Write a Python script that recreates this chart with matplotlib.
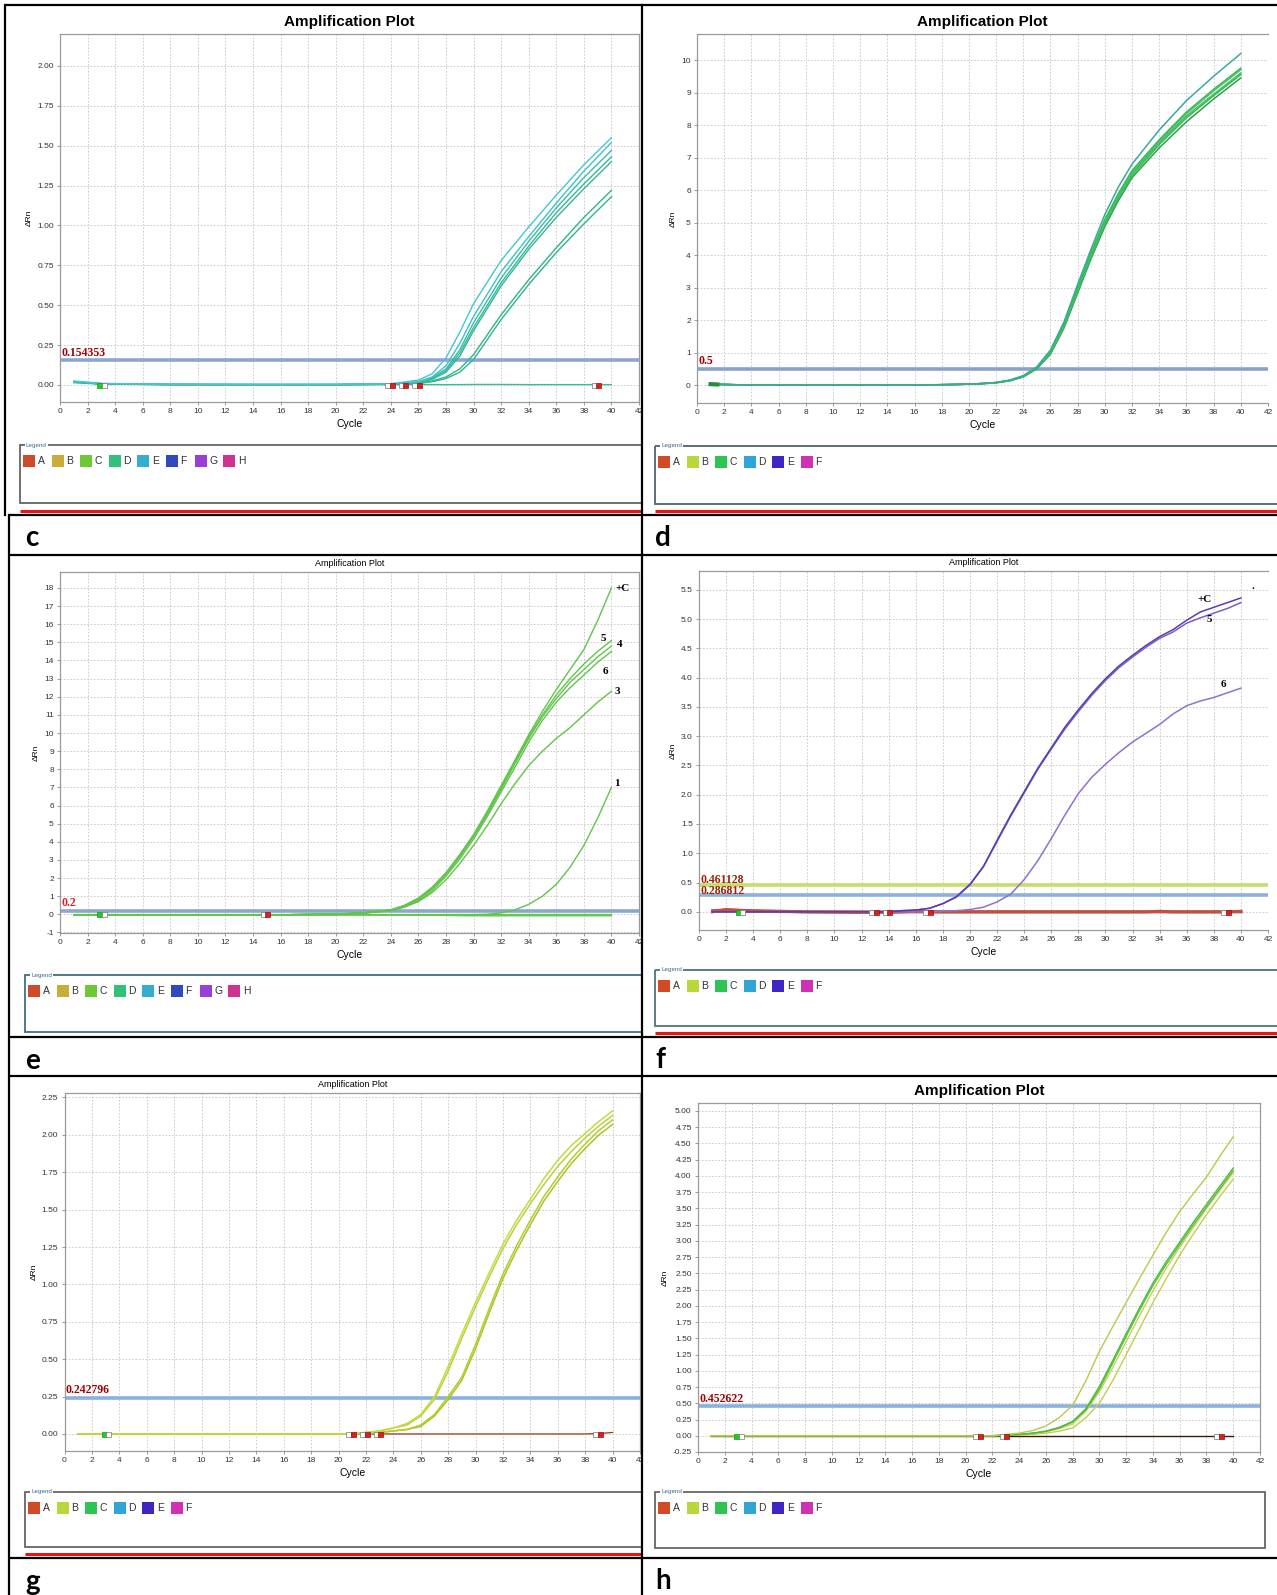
import numpy as np
import matplotlib
matplotlib.use("Agg")
import matplotlib.pyplot as plt
from matplotlib.patches import Rectangle

W, H = 1277, 1595
NARROW = ['Liberation Sans Narrow', 'Liberation Sans', 'DejaVu Sans']
SERIF = ['Liberation Serif', 'DejaVu Serif']

# ---------------- panel 1 (top left) ----------------
p1_cycles = [1, 3, 8, 14, 20, 24, 26, 27, 28, 29, 30, 32, 34, 36, 38, 40]
p1_E1 = [0.025, 0.010, 0.004, 0.003, 0.003, 0.008, 0.030, 0.07, 0.17, 0.33, 0.51, 0.78, 0.99, 1.19, 1.38, 1.55]
p1_E2 = [0.020, 0.008, 0.004, 0.003, 0.003, 0.007, 0.020, 0.05, 0.12, 0.26, 0.43, 0.71, 0.93, 1.14, 1.34, 1.52]
p1_D1 = [0.022, 0.008, 0.003, 0.002, 0.003, 0.006, 0.020, 0.045, 0.10, 0.22, 0.39, 0.67, 0.90, 1.11, 1.30, 1.47]
p1_D2 = [0.020, 0.007, 0.003, 0.002, 0.002, 0.005, 0.015, 0.04, 0.09, 0.20, 0.36, 0.64, 0.87, 1.08, 1.26, 1.43]
p1_D3 = [0.018, 0.006, 0.003, 0.002, 0.002, 0.005, 0.015, 0.035, 0.08, 0.18, 0.34, 0.62, 0.85, 1.05, 1.23, 1.40]
p1_D4 = [0.016, 0.006, 0.002, 0.002, 0.002, 0.004, 0.010, 0.025, 0.05, 0.10, 0.19, 0.44, 0.66, 0.86, 1.05, 1.22]
p1_D5 = [0.015, 0.005, 0.002, 0.002, 0.002, 0.004, 0.010, 0.020, 0.04, 0.08, 0.16, 0.41, 0.63, 0.83, 1.01, 1.18]
p1_flat = [0.020, 0.006, 0.002, 0.002, 0.001, 0.002, 0.003, 0.002, 0.002, 0.002, 0.003, 0.003, 0.002, 0.002, 0.002, 0.002]
p1_threshold = 0.154353
p1_green_marks = [2.9]
p1_red_marks = [24, 25, 26, 39]

# ---------------- panel 2 (top right) ----------------
p2_cycles = [1, 4, 10, 16, 19, 20, 21, 22, 23, 24, 25, 26, 27, 28, 29, 30, 31, 32, 34, 36, 38, 40]
p2_T = [0.03, 0.0, 0.0, 0.0, 0.02, 0.03, 0.05, 0.08, 0.15, 0.29, 0.56, 1.08, 1.95, 3.10, 4.20, 5.25, 6.10, 6.80, 7.85, 8.75, 9.50, 10.20]
p2_G1 = [0.03, 0.0, 0.0, 0.0, 0.02, 0.03, 0.05, 0.08, 0.15, 0.28, 0.55, 1.05, 1.90, 3.00, 4.10, 5.10, 5.90, 6.60, 7.55, 8.40, 9.10, 9.75]
p2_G2 = [0.03, 0.0, 0.0, 0.0, 0.02, 0.03, 0.05, 0.08, 0.15, 0.28, 0.55, 1.03, 1.87, 2.97, 4.05, 5.05, 5.85, 6.55, 7.50, 8.35, 9.05, 9.70]
p2_G3 = [0.03, 0.0, 0.0, 0.0, 0.02, 0.03, 0.05, 0.08, 0.14, 0.27, 0.53, 1.00, 1.83, 2.92, 4.00, 5.00, 5.80, 6.50, 7.45, 8.28, 8.95, 9.60]
p2_G4 = [0.03, 0.0, 0.0, 0.0, 0.02, 0.03, 0.05, 0.07, 0.14, 0.26, 0.52, 0.98, 1.80, 2.88, 3.95, 4.95, 5.75, 6.45, 7.40, 8.22, 8.90, 9.55]
p2_G5 = [0.03, 0.0, 0.0, 0.0, 0.02, 0.03, 0.04, 0.07, 0.13, 0.25, 0.50, 0.95, 1.76, 2.83, 3.90, 4.88, 5.68, 6.38, 7.30, 8.10, 8.80, 9.45]
p2_threshold = 0.5

# ---------------- panel 3 (middle left) ----------------
p3_cycles = [1, 5, 10, 15, 20, 22, 24, 25, 26, 27, 28, 29, 30, 31, 32, 33, 34, 35, 36, 37, 38, 39, 40]
p3_pC = [-0.05, -0.05, -0.05, -0.04, 0.02, 0.08, 0.25, 0.50, 0.90, 1.50, 2.30, 3.30, 4.40, 5.70, 7.10, 8.50, 9.90, 11.2, 12.4, 13.5, 14.6, 16.2, 18.0]
p3_5 = [-0.05, -0.05, -0.05, -0.04, 0.02, 0.08, 0.24, 0.48, 0.85, 1.45, 2.25, 3.25, 4.35, 5.60, 7.00, 8.40, 9.80, 11.0, 12.1, 13.0, 13.8, 14.5, 15.1]
p3_4 = [-0.05, -0.05, -0.05, -0.04, 0.02, 0.07, 0.23, 0.46, 0.82, 1.40, 2.20, 3.18, 4.28, 5.52, 6.90, 8.30, 9.70, 10.9, 11.9, 12.8, 13.5, 14.2, 14.8]
p3_6 = [-0.05, -0.05, -0.05, -0.04, 0.02, 0.07, 0.22, 0.42, 0.75, 1.30, 2.10, 3.05, 4.15, 5.40, 6.75, 8.10, 9.50, 10.7, 11.7, 12.5, 13.2, 13.9, 14.5]
p3_3 = [-0.05, -0.05, -0.05, -0.04, 0.02, 0.06, 0.20, 0.40, 0.70, 1.20, 1.90, 2.80, 3.80, 4.90, 6.10, 7.20, 8.20, 9.00, 9.70, 10.3, 11.0, 11.7, 12.3]
p3_1 = [-0.05, -0.05, -0.05, -0.05, -0.04, -0.03, -0.03, -0.03, -0.03, -0.03, -0.02, -0.02, -0.02, 0.00, 0.08, 0.25, 0.55, 1.00, 1.65, 2.60, 3.80, 5.30, 7.00]
p3_flat1 = [-0.03, -0.03, -0.03, -0.03, -0.03, -0.03, -0.04, -0.04, -0.05, -0.05, -0.06, -0.07, -0.08, -0.08, -0.08, -0.08, -0.08, -0.08, -0.08, -0.08, -0.08, -0.08, -0.08]
p3_flat2 = [0.00, 0.00, 0.00, 0.00, 0.00, 0.00, 0.00, 0.00, 0.00, 0.00, 0.00, 0.00, 0.00, 0.00, 0.00, 0.00, 0.00, 0.00, 0.00, 0.00, 0.00, 0.00, 0.00]
p3_threshold = 0.2
p3_green_marks = [2.9]
p3_red_marks = [15]
p3_names = ['+C', '5', '4', '6', '3', '1']

# ---------------- panel 4 (middle right) ----------------
p4_cycles = [1, 2, 4, 8, 12, 14, 15, 16, 17, 18, 19, 20, 21, 22, 23, 24, 25, 26, 27, 28,
             29, 30, 31, 32, 33, 34, 35, 36, 37, 38, 39, 40]
p4_pC = [0.0, 0.0, 0.0, 0.0, 0.0, 0.0, 0.02, 0.03, 0.06, 0.14, 0.26, 0.47, 0.78, 1.22, 1.65, 2.05, 2.45, 2.80,
         3.15, 3.45, 3.73, 3.98, 4.20, 4.38, 4.55, 4.70, 4.82, 4.98, 5.12, 5.20, 5.28, 5.36]
p4_5 = [0.0, 0.0, 0.0, 0.0, 0.0, 0.0, 0.02, 0.03, 0.06, 0.14, 0.25, 0.46, 0.77, 1.20, 1.63, 2.03, 2.43, 2.78,
        3.12, 3.42, 3.70, 3.95, 4.17, 4.35, 4.52, 4.67, 4.78, 4.93, 5.02, 5.10, 5.18, 5.28]
p4_6 = [0.0, 0.0, 0.0, 0.0, 0.0, 0.0, 0.0, 0.0, 0.0, 0.01, 0.02, 0.04, 0.08, 0.17, 0.30, 0.55, 0.87, 1.25,
        1.65, 2.02, 2.30, 2.52, 2.72, 2.90, 3.05, 3.20, 3.38, 3.52, 3.60, 3.66, 3.74, 3.82]
p4_base1 = [0.02, 0.03, 0.02, 0.0, -0.01, 0.0, 0.0, 0.0, 0.0, 0.0, 0.0, 0.0, 0.0, 0.0, 0.0, 0.0, 0.0, 0.0,
            0.0, 0.0, 0.0, 0.0, 0.0, 0.0, 0.0, 0.01, 0.0, 0.0, 0.0, 0.0, 0.0, 0.01]
p4_base2 = [0.0, 0.04, 0.01, 0.0, 0.0, -0.01, 0.0, 0.01, 0.0, 0.0, 0.0, 0.0, 0.0, 0.0, 0.0, 0.0, 0.0, 0.0,
            0.0, 0.0, 0.0, 0.0, 0.0, 0.0, 0.0, 0.0, 0.0, 0.0, 0.0, 0.0, 0.0, 0.0]
p4_thresholds = [0.461128, 0.286812]
p4_green_marks = [2.9]
p4_red_marks = [13, 14, 17, 39]
p4_names = ['+C', '5', '6', '.']

# ---------------- panel 5 (bottom left) ----------------
p5_cycles = [1, 10, 20, 21, 22, 23, 24, 25, 26, 27, 28, 29, 30, 31, 32, 33, 34, 35, 36, 37, 38, 39, 40]
p5_L1 = [0.0, 0.0, 0.0, 0.003, 0.01, 0.02, 0.04, 0.07, 0.13, 0.25, 0.45, 0.67, 0.88, 1.08, 1.27, 1.43, 1.57, 1.71, 1.83, 1.93, 2.01, 2.09, 2.16]
p5_L2 = [0.0, 0.0, 0.0, 0.003, 0.01, 0.02, 0.04, 0.06, 0.12, 0.23, 0.42, 0.64, 0.85, 1.05, 1.24, 1.40, 1.54, 1.67, 1.79, 1.89, 1.98, 2.06, 2.13]
p5_R1 = [0.0, 0.0, 0.0, 0.0, 0.003, 0.01, 0.02, 0.03, 0.06, 0.13, 0.25, 0.38, 0.60, 0.84, 1.07, 1.26, 1.43, 1.59, 1.72, 1.84, 1.94, 2.03, 2.10]
p5_R2 = [0.0, 0.0, 0.0, 0.0, 0.003, 0.01, 0.02, 0.03, 0.05, 0.12, 0.23, 0.36, 0.57, 0.81, 1.04, 1.23, 1.40, 1.56, 1.69, 1.81, 1.91, 2.00, 2.07]
p5_base = [0.0, 0.0, 0.0, 0.0, 0.0, 0.0, 0.0, 0.0, 0.0, 0.0, 0.0, 0.0, 0.0, 0.0, 0.0, 0.0, 0.0, 0.0, 0.0, 0.0, 0.0, 0.003, 0.01]
p5_threshold = 0.242796
p5_green_marks = [2.9]
p5_red_marks = [21, 22, 23, 39]

# ---------------- panel 6 (bottom right) ----------------
p6_cycles = [1, 10, 20, 22, 24, 25, 26, 27, 28, 29, 30, 31, 32, 33, 34, 35, 36, 37, 38, 39, 40]
p6_Y1 = [0.0, 0.0, 0.0, 0.0, 0.04, 0.08, 0.15, 0.28, 0.47, 0.85, 1.30, 1.68, 2.05, 2.42, 2.78, 3.13, 3.45, 3.72, 3.98, 4.30, 4.60]
p6_G1 = [0.0, 0.0, 0.0, 0.0, 0.02, 0.04, 0.07, 0.13, 0.22, 0.42, 0.76, 1.16, 1.57, 1.97, 2.35, 2.68, 2.98, 3.28, 3.56, 3.84, 4.12]
p6_G2 = [0.0, 0.0, 0.0, 0.0, 0.02, 0.04, 0.07, 0.12, 0.21, 0.40, 0.72, 1.12, 1.53, 1.93, 2.31, 2.64, 2.94, 3.24, 3.52, 3.80, 4.08]
p6_Y2 = [0.0, 0.0, 0.0, 0.0, 0.02, 0.03, 0.06, 0.11, 0.18, 0.38, 0.68, 1.05, 1.45, 1.85, 2.23, 2.58, 2.90, 3.20, 3.50, 3.78, 4.05]
p6_Y3 = [0.0, 0.0, 0.0, 0.0, 0.01, 0.02, 0.04, 0.07, 0.12, 0.28, 0.50, 0.85, 1.25, 1.65, 2.05, 2.42, 2.78, 3.10, 3.40, 3.68, 3.95]
p6_base = [0.0, 0.0, 0.0, 0.0, 0.0, 0.0, 0.0, 0.0, 0.0, 0.0, 0.0, 0.0, 0.0, 0.0, 0.0, 0.0, 0.0, 0.0, 0.0, 0.0, 0.0]
p6_threshold = 0.452622
p6_green_marks = [2.9]
p6_red_marks = [21, 23, 39]

legend8 = ['A', 'B', 'C', 'D', 'E', 'F', 'G', 'H']
legend8_colors = ['#cf4a2a', '#c8ae38', '#6cc834', '#30c27a', '#34aed0', '#3048c0', '#9a3ed8', '#d03290']
legend6 = ['A', 'B', 'C', 'D', 'E', 'F']
legend6_colors = ['#d24a26', '#b8d83a', '#2ec454', '#30a4d4', '#4024c4', '#d030b4']


fig = plt.figure(figsize=(W / 100, H / 100), dpi=100)


def px_axes(left, top, right, bottom):
    return fig.add_axes([left / W, 1 - bottom / H, (right - left) / W, (bottom - top) / H])


def style_axes(ax, xmax, ylim, yticks, yfmt):
    ax.set_xlim(0, xmax)
    ax.set_ylim(*ylim)
    ax.set_xticks(np.arange(0, xmax + 1, 2))
    ax.set_yticks(yticks)
    ax.set_yticklabels([yfmt.format(v) for v in yticks])
    ax.grid(True, color='#c4c4c4', lw=0.6, ls=(0, (2, 2)))
    ax.set_axisbelow(True)
    for s in ax.spines.values():
        s.set_color('#9a9a9a')
        s.set_linewidth(0.9)
    ax.tick_params(length=2.5, width=0.6, color='#888888', labelsize=6, labelcolor='#333333', pad=2)
    for lab in ax.get_xticklabels() + ax.get_yticklabels():
        lab.set_family(NARROW)
    ax.set_xlabel('Cycle', family=NARROW, fontsize=7.5, labelpad=3)
    ax.set_ylabel('\u0394Rn', family=['Liberation Sans', 'DejaVu Sans'], fontsize=6, labelpad=3)


def thr_line(ax, y, color, label, lc='#a00000', lw=2.6):
    ax.axhline(y, color=color, lw=lw, zorder=1.8)
    ax.annotate(label, (0, y), xytext=(1, 1), textcoords='offset points', fontsize=8.5,
                family=SERIF, color=lc, va='bottom', ha='left', zorder=5, fontweight='bold')


def marks(ax, greens, reds):
    for x in greens:
        ax.plot(x - 0.05, 0, 's', ms=3.6, mfc='#22cc22', mec='#119911', mew=0.5, zorder=6, clip_on=False)
        ax.plot(x + 0.3, 0, 's', ms=3.6, mfc='white', mec='#777777', mew=0.5, zorder=6, clip_on=False)
    for x in reds:
        ax.plot(x - 0.3, 0, 's', ms=3.6, mfc='white', mec='#777777', mew=0.5, zorder=6, clip_on=False)
        ax.plot(x + 0.05, 0, 's', ms=3.6, mfc='#dd1e1e', mec='#991111', mew=0.5, zorder=6, clip_on=False)


# ---- panel 1
ax1 = px_axes(60, 34, 639, 402)
style_axes(ax1, 42, (-0.107, 2.20), np.arange(0, 2.01, 0.25), '{:.2f}')
thr_line(ax1, p1_threshold, '#8fa6d4', f'{p1_threshold:g}')
for ys, c in [(p1_flat, '#3cc08a'), (p1_D5, '#2fb58a'), (p1_D4, '#2fb58a'), (p1_D3, '#32b890'),
              (p1_D2, '#34b898'), (p1_D1, '#38bcaa'), (p1_E2, '#3cc2c8'), (p1_E1, '#44c6d4')]:
    ax1.plot(p1_cycles, ys, color=c, lw=1.0, zorder=3)
marks(ax1, p1_green_marks, p1_red_marks)
ax1.set_title('Amplification Plot', family=NARROW, fontsize=11, fontweight='bold', pad=6)

# ---- panel 2 (its right edge is cut off in the screenshot)
ax2 = px_axes(697, 34, 1268, 403)
style_axes(ax2, 42, (-0.55, 10.8), np.arange(0, 11, 1), '{:.0f}')
ax2.spines['right'].set_visible(False)
thr_line(ax2, p2_threshold, '#8aa2c8', '0.5')
for ys, c in [(p2_G5, '#2f9e4c'), (p2_G4, '#3cb85a'), (p2_G3, '#40c060'), (p2_G2, '#46c466'),
              (p2_G1, '#3aba5c'), (p2_T, '#3aa8a0')]:
    ax2.plot(p2_cycles, ys, color=c, lw=1.1, zorder=3)
ax2.plot([1, 1.5], [0.03, 0.02], color='#2a8a40', lw=3, zorder=4)
ax2.set_title('Amplification Plot', family=NARROW, fontsize=11, fontweight='bold', pad=6)

# ---- panel 3
ax3 = px_axes(60, 572, 639, 933)
style_axes(ax3, 42, (-1.03, 18.88), np.arange(-1, 19, 1), '{:.0f}')
thr_line(ax3, p3_threshold, '#8aa8cc', '0.2', lc='#d02020')
for ys in [p3_flat2, p3_flat1, p3_1, p3_3, p3_6, p3_4, p3_5, p3_pC]:
    ax3.plot(p3_cycles, ys, color='#62c44c', lw=1.0, zorder=3)
p3_label_x = [40.8, 39.4, 40.6, 39.55, 40.45, 40.4]
p3_label_y = [17.95, 15.2, 14.9, 13.4, 12.3, 7.2]
for t, x, y in zip(p3_names, p3_label_x, p3_label_y):
    ax3.text(x, y, t, family=SERIF, fontweight='bold', fontsize=8, ha='center', va='center', zorder=6)
marks(ax3, p3_green_marks, p3_red_marks)
ax3.set_title('Amplification Plot', family=NARROW, fontsize=6.5, pad=4)

# ---- panel 4
ax4 = px_axes(699, 571, 1268, 930)
style_axes(ax4, 42, (-0.31, 5.82), np.arange(0, 5.51, 0.5), '{:.1f}')
ax4.spines['right'].set_visible(False)
ax4.axhline(p4_thresholds[0], color='#c8dc70', lw=2.6, zorder=1.8)
ax4.axhline(p4_thresholds[1], color='#8fb0d8', lw=2.6, zorder=1.8)
ax4.text(0.1, 0.54, f'{p4_thresholds[0]:g}', family=SERIF, fontsize=8.5, color='#a02000',
         fontweight='bold', va='center', ha='left', zorder=5)
ax4.text(0.1, 0.35, f'{p4_thresholds[1]:g}', family=SERIF, fontsize=8.5, color='#a02000',
         fontweight='bold', va='center', ha='left', zorder=5)
for ys in [p4_base2, p4_base1]:
    ax4.plot(p4_cycles, ys, color='#c25040', lw=2.2, zorder=3)
ax4.plot(p4_cycles, p4_6, color='#9070cc', lw=1.1, zorder=3)
ax4.plot(p4_cycles, p4_5, color='#7a5cc4', lw=1.1, zorder=3)
ax4.plot(p4_cycles, p4_pC, color='#5a3cb0', lw=1.1, zorder=3)
p4_label_x = [37.3, 37.7, 38.7, 40.9]
p4_label_y = [5.34, 4.99, 3.89, 5.56]
for t, x, y in zip(p4_names, p4_label_x, p4_label_y):
    ax4.text(x, y, t, family=SERIF, fontweight='bold', fontsize=8, ha='center', va='center', zorder=6)
marks(ax4, p4_green_marks, p4_red_marks)
ax4.set_title('Amplification Plot', family=NARROW, fontsize=6.5, pad=4)

# ---- panel 5
ax5 = px_axes(64.5, 1093, 640, 1451)
style_axes(ax5, 42, (-0.114, 2.28), np.arange(0, 2.26, 0.25), '{:.2f}')
thr_line(ax5, p5_threshold, '#8ab0e0', f'{p5_threshold:g}')
ax5.plot(p5_cycles, p5_base, color='#a83020', lw=0.9, zorder=3)
for ys, c in [(p5_R2, '#a8c426'), (p5_R1, '#b4cc2c'), (p5_L2, '#bcd23a'), (p5_L1, '#c8d844')]:
    ax5.plot(p5_cycles, ys, color=c, lw=1.1, zorder=3)
marks(ax5, p5_green_marks, p5_red_marks)
ax5.set_title('Amplification Plot', family=NARROW, fontsize=6.5, pad=4)

# ---- panel 6
ax6 = px_axes(698, 1103, 1260, 1452)
style_axes(ax6, 42, (-0.25, 5.12), np.arange(-0.25, 5.01, 0.25), '{:.2f}')
thr_line(ax6, p6_threshold, '#8ab0e0', f'{p6_threshold:g}')
ax6.plot(p6_cycles, p6_base, color='#3a1a10', lw=1.0, zorder=3)
for ys, c in [(p6_Y3, '#c4cc50'), (p6_Y2, '#c8d24c'), (p6_G2, '#58c040'), (p6_G1, '#4cba3c'), (p6_Y1, '#bcc84a')]:
    ax6.plot(p6_cycles, ys, color=c, lw=1.0, zorder=3)
marks(ax6, p6_green_marks, p6_red_marks)
ax6.set_title('Amplification Plot', family=NARROW, fontsize=11, fontweight='bold', pad=6)

# ---------------- frame, legends, letters ----------------
ov = fig.add_axes([0, 0, 1, 1], zorder=10)
ov.set_xlim(0, W)
ov.set_ylim(H, 0)
ov.axis('off')
ov.patch.set_alpha(0)


def legend_box(left, top, bottom, right, names, colors, edge):
    ov.add_patch(Rectangle((left, top), right - left, bottom - top, fill=False, ec=edge, lw=1.3))
    ov.text(left + 6, top, 'Legend', family=NARROW, fontsize=4.5, color='#3a6a8a', va='center',
            ha='left', bbox=dict(fc='white', ec='none', pad=0.5))
    for i, (n, c) in enumerate(zip(names, colors)):
        x0 = left + 3 + i * 28.6
        ov.add_patch(Rectangle((x0, top + 10), 12, 12, fc=c, ec='none'))
        ov.text(x0 + 14.5, top + 16, n, family=NARROW, fontsize=7.5, color='#333333', va='center', ha='left')


legend_box(20, 445, 503, 642, legend8, legend8_colors, '#666666')
legend_box(655, 446, 504, 1290, legend6, legend6_colors, '#4f6470')
legend_box(25, 975, 1032, 642, legend8, legend8_colors, '#3f6f80')
legend_box(655, 970, 1026, 1290, legend6, legend6_colors, '#4f7080')
legend_box(25, 1492, 1547, 642, legend6, legend6_colors, '#666666')
legend_box(655, 1492, 1548, 1265, legend6, legend6_colors, '#666666')

# red separator lines
for x0, x1, y in [(20, 642, 511), (655, W, 511), (655, W, 1033), (25, 642, 1554)]:
    ov.plot([x0, x1], [y, y], color='#ee1111', lw=2.2, solid_capstyle='butt')

# white strip hiding overflow at the column divider, then black borders
ov.add_patch(Rectangle((640.5, 0), 4, H, fc='white', ec='none'))
for y in [5, 515, 555, 1037, 1076, 1558]:
    ov.plot([5 if y == 5 else 9, W], [y, y], color='black', lw=1.6, solid_capstyle='butt')
ov.plot([642, 642], [5, H], color='black', lw=1.6)
ov.plot([5, 5], [5, 515], color='black', lw=1.6)
ov.plot([9, 9], [515, H], color='black', lw=1.6)

letters = ['c', 'd', 'e', 'f', 'g', 'h']
letter_x = [25, 655, 25, 655, 25, 655]
letter_y = [546, 546, 1069, 1068, 1590, 1589]
for t, x, y in zip(letters, letter_x, letter_y):
    ov.text(x, y, t, family=['Lato', 'DejaVu Sans'], fontweight='bold', fontsize=20,
            va='baseline', ha='left')

fig.savefig('out.png', dpi=100)
